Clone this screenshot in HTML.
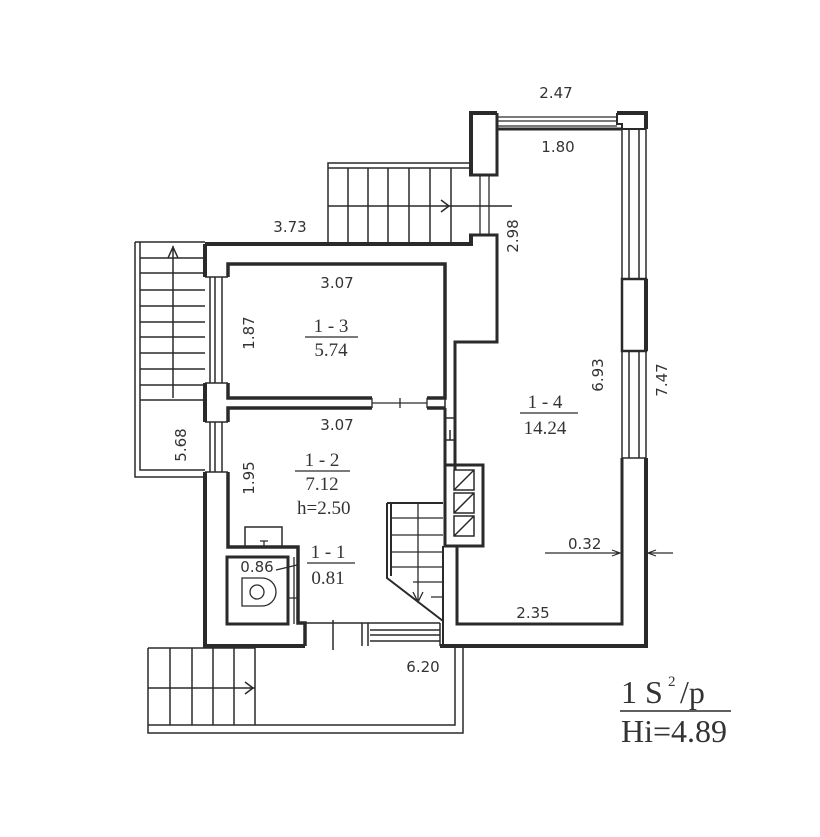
<!DOCTYPE html>
<html><head><meta charset="utf-8"><style>
html,body{margin:0;padding:0;background:#fff;}
svg{display:block}
.d{font-family:"DejaVu Sans","Liberation Sans",sans-serif;font-size:15px;fill:#333}
.s{font-family:"Liberation Serif",serif;font-size:19px;fill:#333}
</style></head><body>
<svg width="820" height="837" viewBox="0 0 820 837" xmlns="http://www.w3.org/2000/svg">
<rect width="820" height="837" fill="#fff"/>
<g fill="none" stroke="#2a2a2a" stroke-linejoin="miter">
<!-- top-left stair (upper) -->
<path d="M328,242 V163 H470 M328,168 H470" stroke-width="1.5"/>
<path d="M348,168V242 M368,168V242 M388,168V242 M409,168V242 M430,168V242 M451,168V242" stroke-width="1.5"/>
<path d="M328,206 H512 M441,200 L449,206 L441,212" stroke-width="1.5"/>
<!-- left stair -->
<path d="M135,242 V477 H205 M140,242 V470 H205 M135,242 H205" stroke-width="1.5"/>
<path d="M140,258H205 M140,273H205 M140,290H205 M140,306H205 M140,322H205 M140,337H205 M140,353H205 M140,369H205 M140,385H205 M140,400H205" stroke-width="1.5"/>
<path d="M173,246 V398 M168,258 L173,247 L178,258" stroke-width="1.5"/>
<!-- bottom stair/landing -->
<path d="M148,648 V733 H463 V647 M148,725 H455 V647" stroke-width="1.5"/>
<path d="M148,648 H255 V725 M170,648V725 M192,648V725 M213,648V725 M234,648V725 M148,688 H255 M245,682 L253,688 L245,694" stroke-width="1.5"/>
<!-- outer walls -->
<path d="M205,244 H471 V235 M471,175 V113 H497 M617,113 H646 V129 M646,279 V351 M646,458 V646 H440 M305,646 H205 V472 M205,422 V383 M205,277 V244" stroke-width="4"/>
<!-- right pier top -->
<path d="M617,113 V124 H622 V129 H646" stroke-width="2"/>
<path d="M469,175 H497 V113 M469,235 H497 V342 H455 V470" stroke-width="3"/>
<!-- top window -->
<path d="M497,117 H617 M497,121 H617 M497,126 H617" stroke-width="1.3"/>
<!-- right windows -->
<path d="M622,129 V279 H646 M622,351 V458 H646 M622,279 V351 M629,129V279 M639,129V279 M629,351V458 M639,351V458 M646,129V279 M646,351V458" stroke-width="1.5"/>
<path d="M622,279 H646 V351 H622 Z" stroke-width="2.5"/>
<!-- room 1-4 inner -->
<path d="M497,129 H622 M622,458 V624 H457 V546" stroke-width="3"/>
<!-- door between top wing -->
<path d="M480,175 V235 M489,175 V235" stroke-width="1.3"/>
<!-- room 1-3 -->
<path d="M228,277 V264 H445 V398 H427 M372,398 H228 V383" stroke-width="3.5"/>
<path d="M372,408 H228 V422 M427,408 H445" stroke-width="3.5"/>
<path d="M372,398 V408 M427,398 V408 M372,403 H427 M400,398 V408" stroke-width="1.3"/>
<!-- left windows -->
<path d="M205,277 H228 M205,383 H228 M210,277 V383 M215,277V383 M222,277V383 M205,383 V422 M205,422 H228 M205,472 H228 M210,422V472 M215,422V472 M222,422V472" stroke-width="1.5"/>
<!-- room 1-2 -->
<path d="M228,472 V547 H298 V623 H305 V646" stroke-width="3.5"/>
<path d="M445,398 V465 M455,342 V465 M445,418 H455 M445,440 H455 M450,430 V440" stroke-width="1.5"/>
<path d="M445,408 V465" stroke-width="3"/>
<!-- vent block -->
<rect x="445" y="465" width="38" height="81" stroke-width="3"/>
<path d="M454,470h20v20h-20z M454,493h20v20h-20z M454,516h20v20h-20z M454,490 L474,470 M454,513 L474,493 M454,536 L474,516" stroke-width="1.5"/>
<!-- inner stair -->
<path d="M443,546 V646 M387,503 V578 L443,621 M391,503 V576 M387,503 H443" stroke-width="2"/>
<path d="M391,518H443 M391,535H443 M391,552H443 M391,567H443 M413,582H443 M431,597H443 M418,503 V600 M413,592 L418,602 L423,592" stroke-width="1.3"/>
<!-- bottom door -->
<path d="M305,623 H440 M333,620 V650 M362,623 V646 M368,623 V646 M370,630 H440 M370,635 H440 M370,641 H440 M440,623 V646" stroke-width="1.5"/>
<!-- WC -->
<rect x="227" y="557" width="61" height="67" stroke-width="3"/>
<path d="M288,557 V624 M294,557 V624 M288,598 H298" stroke-width="1.3"/>
<rect x="245" y="527" width="37" height="20" stroke-width="1.5"/>
<path d="M260,541 H268 M264,541 V546" stroke-width="1.3"/>
<path d="M242,578 H262 A14,14 0 0 1 262,606 H242 Z M242,578 V606" stroke-width="1.3"/>
<circle cx="257" cy="592" r="7" stroke-width="1.3"/>
<path d="M276,570 L297,565" stroke-width="1.3"/>
<!-- dimension arrows -->
<path d="M545,553 H620 M612,550 L620,553 L612,556 M673,553 H648 M656,550 L648,553 L656,556" stroke-width="1.2"/>
<!-- label lines -->
<path d="M305,337 H358 M295,471 H350 M307,563 H355 M520,413 H578" stroke-width="1.2"/>
<path d="M620,711 H731" stroke-width="1.5"/>
</g>
<g class="d">
<text x="556" y="98" text-anchor="middle">2.47</text>
<text x="558" y="152" text-anchor="middle">1.80</text>
<text x="290" y="232" text-anchor="middle">3.73</text>
<text x="337" y="288" text-anchor="middle">3.07</text>
<text x="337" y="430" text-anchor="middle">3.07</text>
<text x="568" y="549">0.32</text>
<text x="533" y="618" text-anchor="middle">2.35</text>
<text x="423" y="672" text-anchor="middle">6.20</text>
<text x="257" y="572" text-anchor="middle">0.86</text>
<text transform="translate(518,236) rotate(-90)" text-anchor="middle">2.98</text>
<text transform="translate(603,375) rotate(-90)" text-anchor="middle">6.93</text>
<text transform="translate(667,380) rotate(-90)" text-anchor="middle">7.47</text>
<text transform="translate(254,333) rotate(-90)" text-anchor="middle">1.87</text>
<text transform="translate(254,478) rotate(-90)" text-anchor="middle">1.95</text>
<text transform="translate(186,445) rotate(-90)" text-anchor="middle">5.68</text>
</g>
<g class="s">
<text x="331" y="332" text-anchor="middle">1 - 3</text>
<text x="331" y="356" text-anchor="middle">5.74</text>
<text x="322" y="466" text-anchor="middle">1 - 2</text>
<text x="322" y="490" text-anchor="middle">7.12</text>
<text x="297" y="514">h=2.50</text>
<text x="328" y="558" text-anchor="middle">1 - 1</text>
<text x="328" y="584" text-anchor="middle">0.81</text>
<text x="545" y="408" text-anchor="middle">1 - 4</text>
<text x="545" y="434" text-anchor="middle">14.24</text>
</g>
<g style="font-family:'Liberation Serif',serif;fill:#333">
<text x="621" y="703" font-size="32">1 S</text>
<text x="668" y="686" font-size="15">2</text>
<text x="680" y="703" font-size="32">/p</text>
<text x="621" y="742" font-size="32">Hi=4.89</text>
</g>
</svg>
</body></html>
